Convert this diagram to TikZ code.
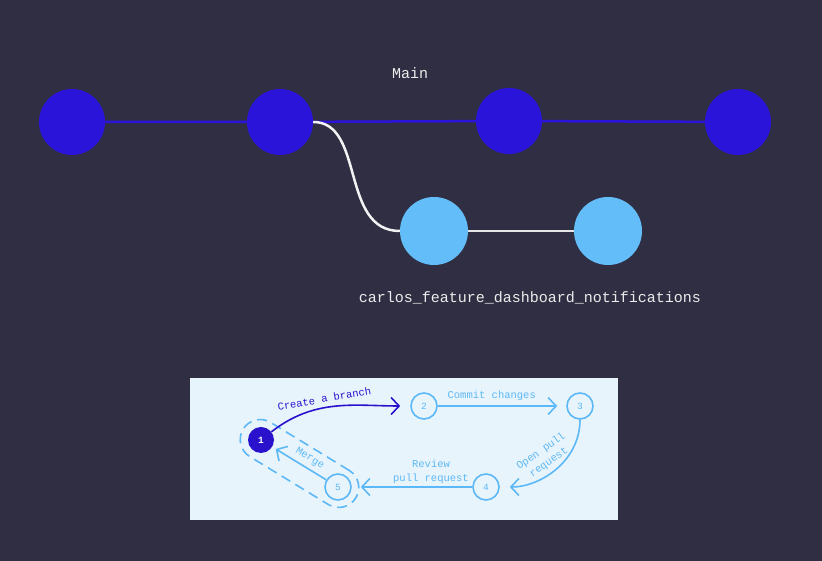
\documentclass[tikz,border=0pt]{standalone}
\usepackage{fontspec}
\setmonofont{Liberation Mono}
\usepackage{xcolor}
\usetikzlibrary{arrows.meta}

\definecolor{nightbg}{HTML}{302E42}
\definecolor{mainblue}{HTML}{2B14D9}
\definecolor{featblue}{HTML}{62BDF8}
\definecolor{panel}{HTML}{E8F4FC}
\definecolor{stepblue}{HTML}{5CB8F6}
\definecolor{branchpurple}{HTML}{2A12CC}

\begin{document}
\begin{tikzpicture}[x=1pt,y=1pt,
		commit/.style={circle, fill=mainblue, minimum size=66pt, inner sep=0pt},
		featcommit/.style={circle, fill=featblue, minimum size=68pt, inner sep=0pt},
		stepnode/.style={circle, draw=stepblue, line width=1.6pt, fill=panel, text=stepblue,
			minimum size=26pt, inner sep=0pt, font=\ttfamily\fontsize{9.5}{10}\selectfont},
		flow/.style={draw=stepblue, line width=1.6pt,
			-{Straight Barb[length=8pt,width=17pt,line width=1.6pt]}},
		steplbl/.style={text=stepblue, font=\ttfamily\fontsize{10.5}{13.5}\selectfont, align=center},
		gitlbl/.style={text=white!85!gray, font=\ttfamily\fontsize{15}{16}\selectfont}
	]
		\fill[nightbg] (0, 0) rectangle (822, 561);
		\useasboundingbox (0, 0) rectangle (822, 561);

		\draw (72, 439)  node[commit] (m1) {};
		\draw (280, 439) node[commit] (m2) {};
		\draw (509, 440) node[commit] (m3) {};
		\draw (738, 439) node[commit] (m4) {};
		\draw[mainblue, line width=2.5pt] (m1) -- (m2) -- (m3) -- (m4);
		\draw (410, 488) node[gitlbl] (mainlbl) {Main};

		\draw (434, 330) node[featcommit] (f1) {};
		\draw (608, 330) node[featcommit] (f2) {};
		\draw[white!90!gray, line width=2.5pt] (m2.east) .. controls (365, 439) and (340, 330) .. (f1.west);
		\draw[white!80!gray, line width=2.5pt] (f1) -- (f2);
		\draw (530, 263) node[gitlbl] (featlbl) {carlos\_feature\_dashboard\_notifications};

		\fill[panel] (190, 41) rectangle (618, 183);

		\draw (261, 121) node[circle, fill=branchpurple, text=white, minimum size=26pt, inner sep=0pt,
			font=\ttfamily\bfseries\fontsize{9.5}{10}\selectfont] (s1) {1};
		\draw (424, 155) node[stepnode] (s2) {2};
		\draw (580, 155) node[stepnode] (s3) {3};
		\draw (486, 74)  node[stepnode] (s4) {4};
		\draw (338, 74)  node[stepnode] (s5) {5};

		\draw (299.5, 97.5) node[draw=stepblue, line width=1.6pt, dash pattern=on 10pt off 6pt,
			rounded corners=20pt, minimum width=132pt, minimum height=40pt, rotate=-31.4] (cycle) {};

		\draw[flow, draw=branchpurple, shorten >=10pt] (s1) to[out=38, in=180]
			node[pos=0.42, sloped, above=1pt, steplbl, text=branchpurple] {Create a branch} (s2);
		\draw[flow, shorten >=9pt] (s2) -- node[pos=0.42, above=1pt, steplbl] {Commit changes} (s3);
		\draw[flow, shorten >=10pt] (s3.south) to[out=-90, in=0] (s4.east);
		\draw (545, 104) node[steplbl, rotate=35] (prlbl) {Open pull\\request};
		\draw[flow, shorten >=9pt] (s4) -- (s5);
		\draw (431, 89) node[steplbl] (revlbl) {Review\\pull request};
		\draw[flow, shorten >=4pt] (s5) -- node[pos=0.4, sloped, above=1pt, steplbl] {Merge} (s1);

	\end{tikzpicture}
\end{document}
